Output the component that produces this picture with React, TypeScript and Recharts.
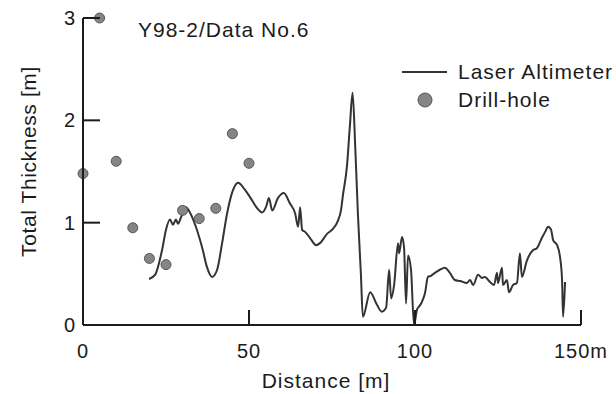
import React from 'react';
import { ComposedChart, Line, Scatter, XAxis, YAxis, Legend } from 'recharts';

// laser altimeter profile
const laserDist = [
  19.9, 21.7, 23.8, 25, 26.2, 27.1, 28, 28.6, 29.5, 31, 32.2, 34, 36.1, 37.3, 38.9, 40.4, 41.9, 43.4, 45.2, 46.7,
  48.8, 50.3, 52.5, 53.9, 55.2, 56, 57, 58.7, 60.5, 62.3, 63.9, 64.8, 65.4, 66, 66.9, 68.4, 70.2, 71.4, 73.5, 75.3,
  76.8, 77.7, 78.3, 79.5, 80.4, 81.2, 82, 82.8, 83.7, 84.3, 86.5, 88.5, 90, 91.3, 92.2, 92.8, 93.7, 94.9, 95.2, 96.1,
  96.7, 97.3, 97.9, 98.8, 99.7, 100.6, 101.2, 102, 103, 103.9, 104.8, 106, 107.5, 109, 110.5, 112, 113.6, 115.6, 116.6, 117.5,
  119, 120.2, 121, 122.6, 123.8, 124.7, 125, 126.2, 126.5, 127.7, 128.3, 129.5, 130.7, 131.6, 132.2, 133.7, 135.5, 136.7, 138.2, 139.2,
  140.1, 141, 141.6, 142.8, 143.7, 144.3, 144.6, 145.2,
];
const laserThick = [
  0.45, 0.49, 0.73, 0.93, 1.03, 0.98, 1.03, 0.99, 1.05, 1.15, 1.1, 0.96, 0.73, 0.57, 0.47, 0.54, 0.8, 1.09, 1.32, 1.39,
  1.32, 1.25, 1.14, 1.1, 1.16, 1.24, 1.12, 1.24, 1.29, 1.19, 1.09, 0.96, 1.15, 0.93, 0.91, 0.85, 0.78, 0.8, 0.89, 0.94,
  1.02, 1.12, 1.27, 1.55, 1.95, 2.27, 1.74, 1.09, 0.5, 0.08, 0.32, 0.2, 0.13, 0.17, 0.54, 0.26, 0.39, 0.8, 0.7, 0.86,
  0.76, 0.21, 0.68, 0.54, 0.0, 0.15, 0.18, 0.22, 0.31, 0.47, 0.48, 0.51, 0.54, 0.56, 0.51, 0.44, 0.43, 0.41, 0.44, 0.39,
  0.49, 0.46, 0.47, 0.42, 0.39, 0.51, 0.41, 0.56, 0.39, 0.44, 0.32, 0.39, 0.41, 0.7, 0.47, 0.63, 0.73, 0.75, 0.85, 0.91,
  0.96, 0.93, 0.83, 0.78, 0.66, 0.44, 0.08, 0.42,
];

// drill-hole measurements
const holeDist = [0, 5, 10, 15, 20, 25, 30, 35, 40, 45, 50];
const holeThick = [1.48, 3.0, 1.6, 0.95, 0.65, 0.59, 1.12, 1.04, 1.14, 1.87, 1.58];

const xTicks = [0, 50, 100, 150];
const xTickLabels = ['0', '50', '100', '150m'];
const yTicks = [0, 1, 2, 3];

const laser = laserDist.map((x, i) => ({ x, y: laserThick[i] }));
const holes = holeDist.map((x, i) => ({ x, y: holeThick[i] }));

const FONT = 'Liberation Sans, Arial, sans-serif';
const INK = '#1b1b1b';

// chart layout
const W = 616;
const H = 394;
const MARGIN = { top: 18, right: 35, bottom: 0, left: 0 };
const Y_AXIS_W = 83;
const X_AXIS_H = 69;
const X_DOMAIN = [0, 150];
const Y_DOMAIN = [0, 3];
const plotLeft = MARGIN.left + Y_AXIS_W;
const plotTop = MARGIN.top;
const plotW = W - MARGIN.right - plotLeft;
const plotH = H - MARGIN.bottom - X_AXIS_H - plotTop;

const XTick = (props: any) => {
  const { x, y, payload } = props;
  const label = xTickLabels[xTicks.indexOf(Number(payload.value))];
  return (
    <text x={x} y={y + 33} textAnchor="middle" fontFamily={FONT} fontSize={20} letterSpacing={1} fill={INK}>
      {label}
    </text>
  );
};

const YTick = (props: any) => {
  const { x, y, payload } = props;
  return (
    <text x={x - 8} y={y + 7} textAnchor="end" fontFamily={FONT} fontSize={20} fill={INK}>
      {payload.value}
    </text>
  );
};

// axis frame with inward ticks, laid over the chart
const Frame = () => {
  const px = (v: number) => plotLeft + ((v - X_DOMAIN[0]) / (X_DOMAIN[1] - X_DOMAIN[0])) * plotW;
  const py = (v: number) => plotTop + (1 - (v - Y_DOMAIN[0]) / (Y_DOMAIN[1] - Y_DOMAIN[0])) * plotH;
  const bottom = plotTop + plotH;
  return (
    <svg
      width={W}
      height={H}
      style={{ position: 'absolute', left: 0, top: 0, pointerEvents: 'none' }}
    >
      <line x1={plotLeft} x2={plotLeft + plotW} y1={bottom} y2={bottom} stroke={INK} strokeWidth={2} />
      <line x1={plotLeft} x2={plotLeft} y1={plotTop} y2={bottom} stroke={INK} strokeWidth={2} />
      {xTicks.slice(1).map((t) => (
        <line key={`x${t}`} x1={px(t)} x2={px(t)} y1={bottom} y2={bottom - 15} stroke={INK} strokeWidth={2} />
      ))}
      {yTicks.slice(1).map((t) => (
        <line key={`y${t}`} x1={plotLeft} x2={plotLeft + 17} y1={py(t)} y2={py(t)} stroke={INK} strokeWidth={2} />
      ))}
    </svg>
  );
};

const HoleDot = (props: any) => (
  <circle cx={props.cx} cy={props.cy} r={5} fill="#858585" stroke="#555" strokeWidth={1} />
);

const renderLegend = (props: any) => {
  const items = [...(props.payload || [])].sort((a: any, b: any) =>
    a.type === 'line' ? -1 : b.type === 'line' ? 1 : 0
  );
  return (
    <svg width={216} height={56}>
      {items.map((entry: any, i: number) => {
        const cy = 14 + i * 28;
        return (
          <g key={entry.value}>
            {entry.type === 'line' ? (
              <line x1={2} x2={47} y1={cy} y2={cy} stroke="#333" strokeWidth={2} />
            ) : (
              <circle cx={25} cy={cy} r={7} fill="#858585" stroke="#555" strokeWidth={1} />
            )}
            <text x={58} y={cy + 7} fontFamily={FONT} fontSize={21} letterSpacing={1} fill={INK}>
              {entry.value}
            </text>
          </g>
        );
      })}
    </svg>
  );
};

export default function App() {
  return (
    <div style={{ position: 'absolute', left: 0, top: 0, width: W, height: H }}>
      <ComposedChart width={W} height={H} margin={MARGIN}>
        <XAxis
          type="number"
          dataKey="x"
          domain={X_DOMAIN}
          ticks={xTicks}
          height={X_AXIS_H}
          tickSize={0}
          tickMargin={0}
          tickLine={false}
          axisLine={false}
          tick={<XTick />}
          label={{
            content: ({ viewBox }: any) => (
              <text
                x={viewBox.x + viewBox.width / 2 - 6}
                y={viewBox.y + 63}
                textAnchor="middle"
                fontFamily={FONT}
                fontSize={21}
                letterSpacing={1}
                fill={INK}
              >
                Distance [m]
              </text>
            ),
          }}
        />
        <YAxis
          type="number"
          dataKey="y"
          domain={Y_DOMAIN}
          ticks={yTicks}
          width={Y_AXIS_W}
          tickSize={0}
          tickMargin={0}
          tickLine={false}
          axisLine={false}
          tick={<YTick />}
          label={{
            content: ({ viewBox }: any) => {
              const cx = 36;
              const cy = viewBox.y + viewBox.height / 2 - 10;
              return (
                <text
                  x={cx}
                  y={cy}
                  transform={`rotate(-90, ${cx}, ${cy})`}
                  textAnchor="middle"
                  fontFamily={FONT}
                  fontSize={21}
                  letterSpacing={0.6}
                  fill={INK}
                >
                  Total Thickness [m]
                </text>
              );
            },
          }}
        />
        <Legend
          layout="vertical"
          align="center"
          verticalAlign="middle"
          content={renderLegend}
          wrapperStyle={{ left: 400, top: 58, width: 216 }}
        />
        <Line
          data={laser}
          dataKey="y"
          name="Laser Altimeter"
          type="monotone"
          stroke="#333"
          strokeWidth={2}
          dot={false}
          isAnimationActive={false}
        />
        <Scatter
          data={holes}
          dataKey="y"
          name="Drill-hole"
          shape={<HoleDot />}
          isAnimationActive={false}
        />
      </ComposedChart>
      <Frame />
      <div
        style={{
          position: 'absolute',
          left: 138,
          top: 19,
          fontFamily: FONT,
          fontSize: 21,
          lineHeight: '21px',
          letterSpacing: 1,
          color: INK,
          whiteSpace: 'nowrap',
        }}
      >
        Y98-2/Data No.6
      </div>
    </div>
  );
}
